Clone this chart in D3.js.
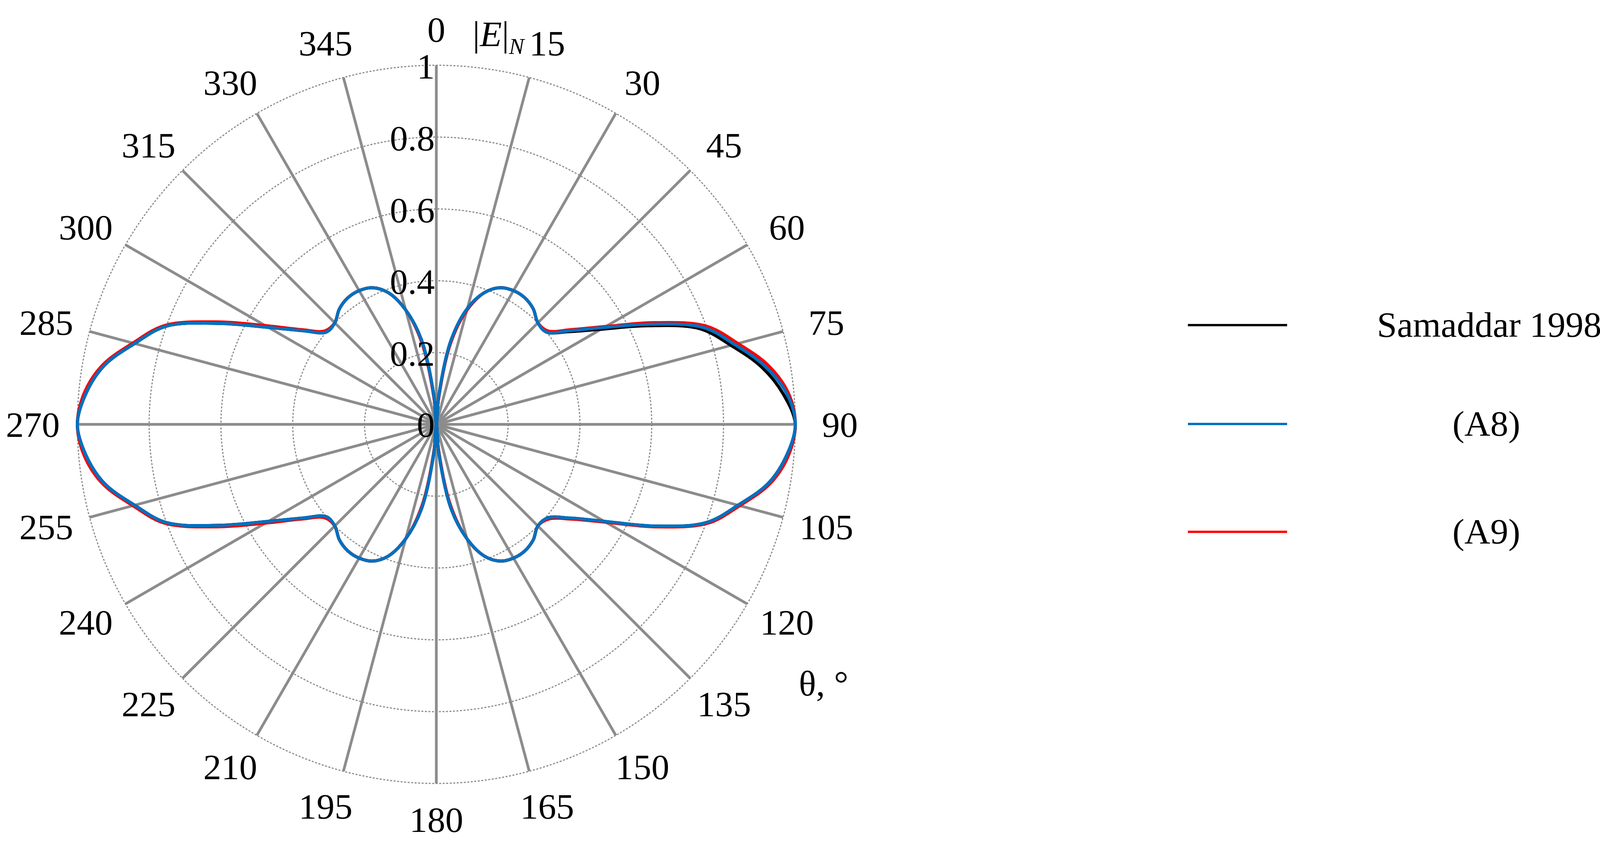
<!DOCTYPE html>
<html>
<head>
<meta charset="utf-8">
<script src="https://cdn.jsdelivr.net/npm/d3@7"></script>
<style>
  body { margin: 0; background: #fff; }
  text { font-family: "Liberation Serif", "DejaVu Serif", serif; }
</style>
</head>
<body>
<div id="chart"></div>
<script>
// angles 0..355 step 5 (degrees, clockwise from north)
const angles = d3.range(0, 360, 5);

const samaddar = [0, 0.08, 0.24, 0.33, 0.39, 0.42, 0.43, 0.43, 0.42, 0.40, 0.40, 0.45, 0.53, 0.65, 0.78, 0.85, 0.92, 0.97, 1.0,
  0.98, 0.94, 0.87, 0.80, 0.67, 0.54, 0.455, 0.405, 0.40, 0.42, 0.43, 0.43, 0.42, 0.39, 0.33, 0.24, 0.08,
  0, 0.08, 0.24, 0.33, 0.39, 0.42, 0.43, 0.43, 0.42, 0.40, 0.40, 0.455, 0.54, 0.665, 0.80, 0.87, 0.94, 0.98,
  1.0, 0.98, 0.94, 0.87, 0.80, 0.665, 0.54, 0.455, 0.40, 0.40, 0.42, 0.43, 0.43, 0.42, 0.39, 0.33, 0.24, 0.08];

const a8 = [0, 0.08, 0.24, 0.335, 0.39, 0.42, 0.43, 0.43, 0.42, 0.40, 0.40, 0.455, 0.54, 0.66, 0.79, 0.86, 0.93, 0.98, 1.0,
  0.98, 0.94, 0.87, 0.80, 0.67, 0.54, 0.455, 0.405, 0.40, 0.42, 0.43, 0.43, 0.42, 0.39, 0.33, 0.24, 0.08,
  0, 0.08, 0.24, 0.33, 0.39, 0.42, 0.43, 0.43, 0.42, 0.40, 0.40, 0.455, 0.54, 0.665, 0.80, 0.87, 0.94, 0.98,
  1.0, 0.98, 0.94, 0.87, 0.80, 0.665, 0.54, 0.455, 0.40, 0.40, 0.42, 0.43, 0.43, 0.42, 0.39, 0.33, 0.24, 0.08];

const a9 = [0, 0.07, 0.23, 0.33, 0.39, 0.42, 0.43, 0.43, 0.42, 0.40, 0.405, 0.46, 0.545, 0.67, 0.80, 0.87, 0.94, 0.985, 1.0,
  0.985, 0.945, 0.875, 0.805, 0.675, 0.545, 0.46, 0.41, 0.40, 0.42, 0.43, 0.43, 0.42, 0.39, 0.33, 0.23, 0.07,
  0, 0.07, 0.23, 0.33, 0.39, 0.42, 0.43, 0.43, 0.42, 0.40, 0.405, 0.46, 0.55, 0.675, 0.805, 0.875, 0.945, 0.985,
  1.0, 0.985, 0.945, 0.875, 0.805, 0.675, 0.55, 0.46, 0.405, 0.40, 0.42, 0.43, 0.43, 0.42, 0.39, 0.33, 0.23, 0.07];

const ringTicks = [0.2, 0.4, 0.6, 0.8, 1];
const ringLabels = ["0.2", "0.4", "0.6", "0.8", "1"];
const spokeAngles = d3.range(0, 360, 15);

const series = [
  { name: "Samaddar 1998", values: samaddar, color: "#000000" },
  { name: "(A9)", values: a9, color: "#ff0000" },
  { name: "(A8)", values: a8, color: "#0070c0" }
];
const legendOrder = ["Samaddar 1998", "(A8)", "(A9)"];

const W = 4128, H = 2165;
const cx = 1117, cy = 1086, R = 919;
const fs = 92;

const svg = d3.select("#chart").append("svg").attr("width", W).attr("height", H);
const g = svg.append("g").attr("transform", `translate(${cx},${cy})`);

const r = d3.scaleLinear().domain([0, 1]).range([0, R]);
const toRad = d => d * Math.PI / 180;

// rings
g.selectAll(".ring").data(ringTicks).enter().append("circle")
  .attr("r", d => r(d)).attr("fill", "none")
  .attr("stroke", "#8c8c8c").attr("stroke-width", 3).attr("stroke-dasharray", "5,4");

// spokes
g.selectAll(".spoke").data(spokeAngles).enter().append("line")
  .attr("x1", 0).attr("y1", 0)
  .attr("x2", d => r(1) * Math.sin(toRad(d)))
  .attr("y2", d => -r(1) * Math.cos(toRad(d)))
  .attr("stroke", "#8c8c8c").attr("stroke-width", 7);

// angle labels
const shift = d => (d > 0 && d < 180 ? 22 : d > 180 ? -22 : 0);
g.selectAll(".alabel").data(spokeAngles).enter().append("text")
  .attr("x", d => r(1.1) * Math.sin(toRad(d)) + shift(d))
  .attr("y", d => -r(1.1) * Math.cos(toRad(d)))
  .attr("dy", "0.35em").attr("text-anchor", "middle")
  .attr("font-size", fs).text(d => d);

// curves
const line = d3.lineRadial()
  .angle((d, i) => toRad(angles[i]))
  .radius(d => r(d))
  .curve(d3.curveCatmullRomClosed.alpha(0.5));

series.forEach(s => {
  g.append("path").attr("d", line(s.values))
    .attr("fill", "none").attr("stroke", s.color).attr("stroke-width", 8)
    .attr("stroke-linejoin", "round");
});

// radial labels
g.selectAll(".rlabel").data(ringTicks).enter().append("text")
  .attr("x", -4).attr("y", d => -r(d) + 34)
  .attr("text-anchor", "end").attr("font-size", fs)
  .text((d, i) => ringLabels[i]);
g.append("text").attr("x", -4).attr("y", 32).attr("text-anchor", "end")
  .attr("font-size", fs).text("0");

// axis titles
const et = svg.append("text").attr("x", 1210).attr("y", 118).attr("font-size", fs);
et.append("tspan").text("|");
et.append("tspan").attr("font-style", "italic").text("E");
et.append("tspan").text("|");
et.append("tspan").attr("font-style", "italic").attr("font-size", 58).attr("dy", 20).text("N");
svg.append("text").attr("x", 2045).attr("y", 1780).attr("font-size", fs).text("θ, °");

// legend
const ly = [832, 1085, 1361];
legendOrder.forEach((name, i) => {
  const s = series.find(d => d.name === name);
  svg.append("line").attr("x1", 3041).attr("x2", 3295)
    .attr("y1", ly[i]).attr("y2", ly[i])
    .attr("stroke", s.color).attr("stroke-width", 6);
  svg.append("text").attr("x", i === 0 ? 3525 : 3805).attr("y", ly[i] + 30)
    .attr("text-anchor", i === 0 ? "start" : "middle")
    .attr("font-size", fs).text(name);
});
</script>
</body>
</html>
